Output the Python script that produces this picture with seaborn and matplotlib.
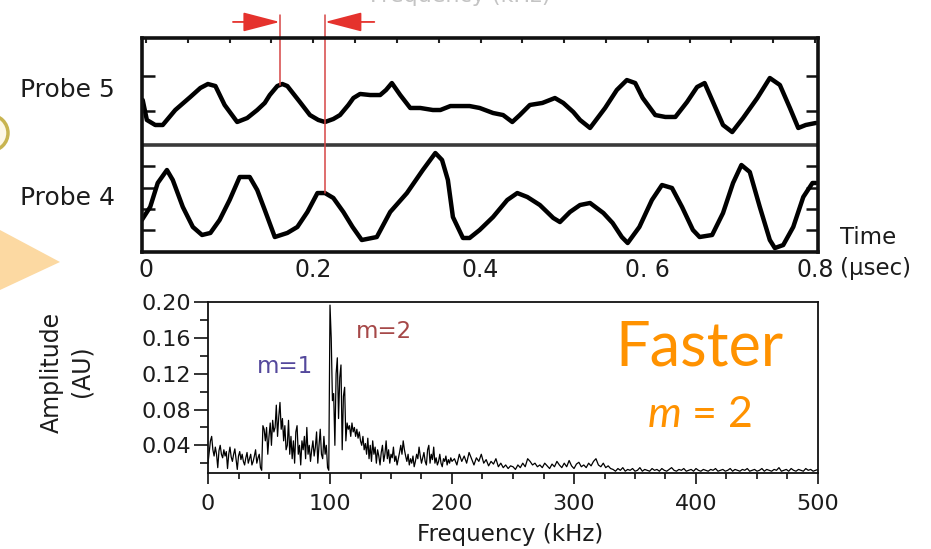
import numpy as np
import pandas as pd
import matplotlib
matplotlib.use("Agg")
import matplotlib.pyplot as plt
import seaborn as sns
from matplotlib.patches import Ellipse, Polygon
from matplotlib.ticker import FixedLocator, MultipleLocator

# ---------------- data ----------------
probe5_t = [-0.004, 0.001, 0.011, 0.020, 0.035, 0.053, 0.065, 0.074, 0.083, 0.094,
            0.109, 0.121, 0.133, 0.142, 0.148, 0.157, 0.163, 0.169, 0.184, 0.196,
            0.206, 0.214, 0.224, 0.232, 0.242, 0.248, 0.256, 0.268, 0.280, 0.287,
            0.294, 0.304, 0.316, 0.328, 0.343, 0.352, 0.364, 0.375, 0.387, 0.399,
            0.415, 0.427, 0.438, 0.447, 0.459, 0.474, 0.489, 0.499, 0.511, 0.519,
            0.531, 0.549, 0.563, 0.575, 0.585, 0.594, 0.609, 0.621, 0.633, 0.647,
            0.659, 0.668, 0.678, 0.690, 0.701, 0.714, 0.731, 0.746, 0.758, 0.770,
            0.780, 0.789, 0.801]
probe5_v = [0.421, 0.234, 0.187, 0.187, 0.327, 0.449, 0.533, 0.570, 0.551, 0.374,
            0.215, 0.252, 0.327, 0.393, 0.467, 0.551, 0.570, 0.551, 0.402, 0.280,
            0.234, 0.215, 0.243, 0.280, 0.374, 0.439, 0.477, 0.467, 0.467, 0.514,
            0.579, 0.467, 0.346, 0.346, 0.327, 0.327, 0.364, 0.364, 0.364, 0.346,
            0.299, 0.280, 0.215, 0.280, 0.374, 0.393, 0.439, 0.393, 0.308, 0.234,
            0.159, 0.346, 0.514, 0.607, 0.579, 0.439, 0.280, 0.262, 0.262, 0.402,
            0.542, 0.579, 0.402, 0.187, 0.121, 0.252, 0.439, 0.626, 0.561, 0.346,
            0.159, 0.187, 0.206]
probe4_t = [-0.005, 0.005, 0.014, 0.025, 0.032, 0.044, 0.056, 0.067, 0.077, 0.088,
            0.100, 0.112, 0.124, 0.133, 0.142, 0.154, 0.169, 0.181, 0.193, 0.205,
            0.214, 0.224, 0.236, 0.247, 0.258, 0.276, 0.292, 0.312, 0.331, 0.346,
            0.354, 0.361, 0.367, 0.379, 0.387, 0.399, 0.415, 0.432, 0.444, 0.456,
            0.471, 0.487, 0.495, 0.507, 0.519, 0.531, 0.547, 0.558, 0.569, 0.576,
            0.590, 0.605, 0.617, 0.629, 0.641, 0.654, 0.662, 0.677, 0.690, 0.702,
            0.712, 0.722, 0.734, 0.746, 0.752, 0.762, 0.774, 0.786, 0.797, 0.801]
probe4_v = [0.299, 0.421, 0.645, 0.766, 0.673, 0.421, 0.234, 0.159, 0.178, 0.299,
            0.486, 0.701, 0.701, 0.579, 0.393, 0.140, 0.178, 0.234, 0.374, 0.551,
            0.551, 0.505, 0.374, 0.234, 0.112, 0.140, 0.374, 0.551, 0.766, 0.925,
            0.860, 0.673, 0.327, 0.131, 0.131, 0.206, 0.327, 0.486, 0.551, 0.514,
            0.439, 0.318, 0.280, 0.374, 0.439, 0.458, 0.364, 0.271, 0.140, 0.084,
            0.234, 0.486, 0.626, 0.598, 0.421, 0.206, 0.140, 0.159, 0.364, 0.645,
            0.813, 0.748, 0.421, 0.112, 0.037, 0.065, 0.234, 0.514, 0.645, 0.645]
probe_tick_levels = [0.206, 0.402, 0.598, 0.804, 1.318, 1.645]
marker_times = [0.160, 0.214]
time_ticks = [0, 0.2, 0.4, 0.6, 0.8]
time_labels = ["0", "0.2", "0.4", "0. 6", "0.8"]

freq_lo = np.arange(0, 201, 1)
amp_lo = [0.020, 0.032, 0.045, 0.050, 0.035, 0.028, 0.038, 0.030, 0.015, 0.034,
          0.040, 0.030, 0.026, 0.035, 0.028, 0.033, 0.014, 0.030, 0.038, 0.027,
          0.022, 0.030, 0.036, 0.025, 0.013, 0.028, 0.033, 0.024, 0.030, 0.022,
          0.018, 0.026, 0.032, 0.020, 0.025, 0.030, 0.018, 0.022, 0.028, 0.035,
          0.020, 0.026, 0.030, 0.015, 0.012,
          0.062, 0.058, 0.045, 0.060, 0.030, 0.050, 0.065, 0.040, 0.068, 0.055,
          0.060, 0.085, 0.050, 0.072, 0.088, 0.058, 0.070, 0.045, 0.062, 0.035,
          0.040, 0.068, 0.030, 0.050, 0.025, 0.045, 0.020, 0.055, 0.062, 0.030,
          0.040, 0.018, 0.045, 0.035, 0.050, 0.025, 0.060, 0.030, 0.040, 0.022,
          0.035, 0.045, 0.028, 0.038, 0.055, 0.020, 0.040, 0.058, 0.030, 0.025,
          0.050, 0.030, 0.040, 0.015, 0.012,
          0.197, 0.160, 0.090, 0.098, 0.040, 0.120, 0.138, 0.070, 0.116, 0.130,
          0.035, 0.095, 0.105, 0.045, 0.065, 0.058, 0.062, 0.050, 0.065, 0.055,
          0.060, 0.050, 0.058, 0.048, 0.055, 0.045, 0.040, 0.050, 0.035, 0.042,
          0.030, 0.048, 0.025, 0.040, 0.022, 0.045, 0.030, 0.038, 0.020, 0.035,
          0.028, 0.018, 0.032, 0.040, 0.022, 0.030, 0.045, 0.025, 0.035, 0.020,
          0.030, 0.026, 0.038, 0.022, 0.028, 0.018, 0.025, 0.032, 0.040, 0.030,
          0.045, 0.035, 0.028, 0.022, 0.030, 0.018, 0.025, 0.020, 0.028, 0.016,
          0.022, 0.030, 0.025, 0.038, 0.028, 0.020, 0.026, 0.032, 0.022, 0.018,
          0.035, 0.040, 0.020, 0.030, 0.024, 0.038, 0.020, 0.026, 0.018, 0.022,
          0.030, 0.020, 0.016, 0.025, 0.022, 0.028, 0.018, 0.024, 0.020, 0.026,
          0.022]
freq_hi = np.arange(202, 501, 2)
amp_hi = [0.025, 0.018, 0.030, 0.022, 0.028, 0.020, 0.032, 0.025, 0.018, 0.026,
          0.022, 0.030, 0.020, 0.024, 0.017, 0.022, 0.019, 0.025, 0.016, 0.020,
          0.015, 0.018, 0.014, 0.017, 0.016, 0.013, 0.018, 0.015, 0.020, 0.016,
          0.025, 0.022, 0.018, 0.020, 0.016,
          0.018, 0.015, 0.020, 0.017, 0.014, 0.019, 0.016, 0.022, 0.018, 0.015,
          0.020, 0.016, 0.023, 0.017, 0.014, 0.019, 0.021, 0.016, 0.018, 0.015,
          0.020, 0.017, 0.022, 0.025, 0.018, 0.016, 0.020, 0.015, 0.017, 0.014,
          0.013, 0.011, 0.014, 0.012, 0.015, 0.011, 0.013, 0.012, 0.014, 0.011,
          0.012, 0.015, 0.011, 0.013, 0.012, 0.011, 0.014, 0.012, 0.013, 0.011,
          0.014, 0.012, 0.011, 0.013, 0.015, 0.012, 0.011, 0.013, 0.012, 0.014,
          0.011, 0.012, 0.013, 0.011, 0.014, 0.012, 0.011, 0.013, 0.012, 0.011,
          0.013, 0.012, 0.014, 0.011, 0.012, 0.013, 0.011, 0.012, 0.014, 0.011,
          0.013, 0.012, 0.011, 0.013, 0.012, 0.014, 0.011, 0.012, 0.013, 0.011,
          0.012, 0.014, 0.011, 0.013, 0.012, 0.011, 0.013, 0.012, 0.015, 0.011,
          0.012, 0.013, 0.011, 0.014, 0.012, 0.011, 0.013, 0.012, 0.011, 0.014,
          0.012, 0.013, 0.011, 0.012, 0.013]
freq_ticks = [0, 100, 200, 300, 400, 500]
amp_ticks = [0.04, 0.08, 0.12, 0.16, 0.20]
amp_labels = ["0.04", "0.08", "0.12", "0.16", "0.20"]

# ---------------- style ----------------
sns.set_theme(style="white")
plt.rcParams["font.family"] = ["DejaVu Sans"]
plt.rcParams["mathtext.fontset"] = "custom"
plt.rcParams["mathtext.rm"] = "Lato"
plt.rcParams["mathtext.it"] = "Lato:italic"

W, H = 931, 549
fig = plt.figure(figsize=(W / 100, H / 100), dpi=100)
fig.patch.set_facecolor("white")


def box(l, t, r, b):
    return [l / W, 1 - b / H, (r - l) / W, (b - t) / H]


def px(x, y):
    return x / W, 1 - y / H


TXT = "#1c1c1c"

# decorations at the left edge of the slide
fig.patches.append(Ellipse(px(-10, 133), 36 / W, 36 / H, transform=fig.transFigure,
                           facecolor="#fdf8e6", edgecolor="#c8b450", lw=2.5))
fig.patches.append(Polygon([px(0, 230), px(60, 262), px(0, 290)], closed=True,
                           transform=fig.transFigure, facecolor="#fcd9a2",
                           edgecolor="none"))
# slide title, cut off by the top edge as in the source
fig.text(*px(460, 2), "Frequency (kHz)", color="#c4c4c4", fontsize=16,
         ha="center", va="baseline")

# ---------------- top: probe signals ----------------
ax1 = fig.add_axes(box(142, 38, 818, 252))
df5 = pd.DataFrame({"t": probe5_t, "v": np.array(probe5_v) + 1.0})
df4 = pd.DataFrame({"t": probe4_t, "v": probe4_v})
sns.lineplot(data=df5, x="t", y="v", ax=ax1, color="black", lw=3.2,
             sort=False, estimator=None)
sns.lineplot(data=df4, x="t", y="v", ax=ax1, color="black", lw=3.2,
             sort=False, estimator=None)
ax1.axhline(1.0, color="#3a3a3a", lw=2.6)
ax1.set_xlim(-0.0048, 0.8036)
ax1.set_ylim(0, 2)
ax1.set_xlabel("")
ax1.set_ylabel("")
for s in ax1.spines.values():
    s.set_linewidth(2.6)
    s.set_color("#111111")

ax1.xaxis.set_major_locator(FixedLocator(time_ticks))
ax1.set_xticklabels(time_labels)
ax1.xaxis.set_minor_locator(MultipleLocator(0.05))
ax1.tick_params(axis="x", which="both", bottom=False, top=True, direction="in",
                length=3.5, width=1.5, color="#222", labelsize=17,
                labelcolor=TXT, pad=4)
ax1.yaxis.set_major_locator(FixedLocator(probe_tick_levels))
ax1.set_yticklabels([])
ax1.tick_params(axis="y", which="both", left=True, right=True, direction="in",
                length=9, width=1.8, color="#111")

# markers: red lines and arrows
marker_tops = [np.interp(marker_times[0], probe5_t, probe5_v) + 1.0,
               np.interp(marker_times[1], probe4_t, probe4_v)]
for t, lev in zip(marker_times, marker_tops):
    ax1.plot([t, t], [lev, 2.215], color="#d64545", lw=1.1, clip_on=False)
arrow_y = 2.15
ax1.annotate("", xy=(marker_times[0], arrow_y), xytext=(marker_times[0] - 0.056, arrow_y),
             arrowprops=dict(arrowstyle="-|>,head_length=2.3,head_width=0.6",
                             mutation_scale=10, color="#e5322d", lw=1.3,
                             shrinkA=0, shrinkB=0), annotation_clip=False)
ax1.annotate("", xy=(marker_times[1], arrow_y), xytext=(marker_times[1] + 0.059, arrow_y),
             arrowprops=dict(arrowstyle="-|>,head_length=2.3,head_width=0.6",
                             mutation_scale=10, color="#e5322d", lw=1.3,
                             shrinkA=0, shrinkB=0), annotation_clip=False)

fig.text(*px(20, 90), "Probe 5", fontsize=18, color=TXT, ha="left", va="center")
fig.text(*px(20, 198), "Probe 4", fontsize=18, color=TXT, ha="left", va="center")
fig.text(*px(840, 237), "Time", fontsize=16.5, color=TXT, ha="left", va="center")
fig.text(*px(840, 268), "(\u03bcsec)", fontsize=16.5, color=TXT, ha="left", va="center")

# ---------------- bottom: spectrum ----------------
ax2 = fig.add_axes(box(208, 302, 818, 473))
dfs = pd.DataFrame({"f": np.concatenate([freq_lo, freq_hi]),
                    "a": amp_lo + amp_hi})
sns.lineplot(data=dfs, x="f", y="a", ax=ax2, color="black", lw=0.9,
             sort=False, estimator=None)
ax2.set_xlim(0, 500)
ax2.set_ylim(0.009, 0.2005)
ax2.set_xlabel("")
ax2.set_ylabel("")
for s in ax2.spines.values():
    s.set_linewidth(1.3)
    s.set_color("#111111")
ax2.xaxis.set_major_locator(FixedLocator(freq_ticks))
ax2.xaxis.set_minor_locator(MultipleLocator(25))
ax2.yaxis.set_major_locator(FixedLocator(amp_ticks))
ax2.set_yticklabels(amp_labels)
ax2.yaxis.set_minor_locator(MultipleLocator(0.02))
ax2.tick_params(axis="x", which="major", bottom=True, direction="out", length=8,
                width=1.2, color="#111", labelsize=16, labelcolor=TXT, pad=7)
ax2.tick_params(axis="x", which="minor", bottom=True, direction="out", length=4,
                width=1.2, color="#111")
ax2.tick_params(axis="y", which="major", left=True, direction="out", length=10,
                width=1.2, color="#111", labelsize=16, labelcolor=TXT, pad=2)
ax2.tick_params(axis="y", which="minor", left=True, direction="out", length=6,
                width=1.2, color="#111")

ax2.text(63, 0.128, "m=1", fontsize=16.5, color="#54489c", ha="center", va="center")
ax2.text(144, 0.167, "m=2", fontsize=16.5, color="#a64848", ha="center", va="center")
ax2.text(403, 0.149, "Faster", fontsize=44, color="#ff9200", ha="center",
         va="center", family="Lato")
ax2.text(403, 0.074, r"$\mathit{m}$ = 2", fontsize=31, color="#ff9200",
         ha="center", va="center", family="Lato")

fig.text(*px(52, 372), "Amplitude", fontsize=17, color=TXT, rotation=90,
         ha="center", va="center")
fig.text(*px(82, 371), "(AU)", fontsize=17, color=TXT, rotation=90,
         ha="center", va="center")
fig.text(*px(510, 535), "Frequency (kHz)", fontsize=16.5, color=TXT,
         ha="center", va="center")

fig.savefig("out.png", dpi=100, facecolor="white")
